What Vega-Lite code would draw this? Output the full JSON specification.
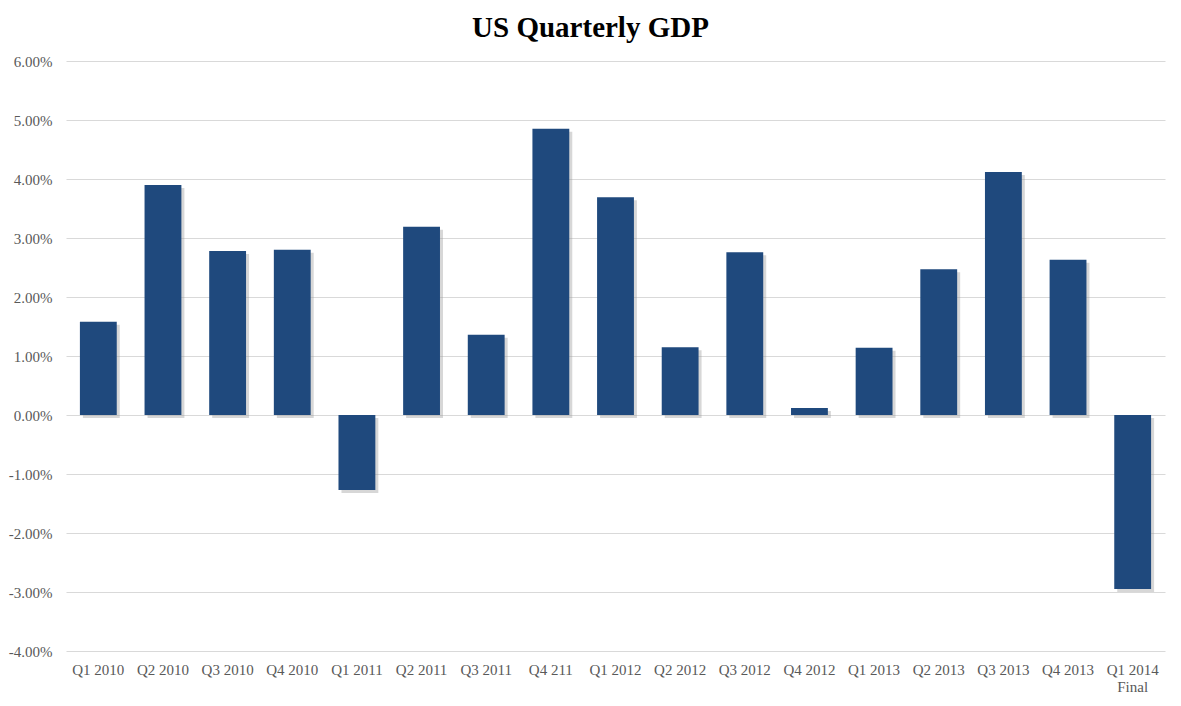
{
  "$schema": "https://vega.github.io/schema/vega-lite/v6.json",
  "width": 1099,
  "height": 590,
  "autosize": {"type": "none"},
  "padding": {"left": 66, "top": 61, "right": 16, "bottom": 55},
  "background": "white",
  "title": {
    "text": "US Quarterly GDP",
    "font": "Liberation Serif",
    "fontSize": 29,
    "fontWeight": "bold",
    "color": "#000000",
    "anchor": "middle",
    "offset": 11,
    "dx": -25
  },
  "data": {
    "values": [
      {"quarter": "Q1 2010", "gdp": 1.58},
      {"quarter": "Q2 2010", "gdp": 3.9},
      {"quarter": "Q3 2010", "gdp": 2.78},
      {"quarter": "Q4 2010", "gdp": 2.8},
      {"quarter": "Q1 2011", "gdp": -1.27},
      {"quarter": "Q2 2011", "gdp": 3.19},
      {"quarter": "Q3 2011", "gdp": 1.36},
      {"quarter": "Q4 211", "gdp": 4.85},
      {"quarter": "Q1 2012", "gdp": 3.69},
      {"quarter": "Q2 2012", "gdp": 1.15},
      {"quarter": "Q3 2012", "gdp": 2.76},
      {"quarter": "Q4 2012", "gdp": 0.12},
      {"quarter": "Q1 2013", "gdp": 1.14},
      {"quarter": "Q2 2013", "gdp": 2.47},
      {"quarter": "Q3 2013", "gdp": 4.12},
      {"quarter": "Q4 2013", "gdp": 2.63},
      {"quarter": "Q1 2014|Final", "gdp": -2.95}
    ]
  },
  "encoding": {
    "x": {
      "field": "quarter",
      "type": "nominal",
      "sort": null,
      "scale": {"paddingInner": 0.43, "paddingOuter": 0.215},
      "axis": {
        "title": null,
        "labelAngle": 0,
        "labelExpr": "split(datum.value, '|')",
        "labelFont": "Liberation Serif",
        "labelFontSize": 15,
        "labelColor": "#595959",
        "labelPadding": 11,
        "labelLineHeight": 17,
        "ticks": false,
        "domain": false,
        "grid": false
      }
    },
    "y": {
      "field": "gdp",
      "type": "quantitative",
      "scale": {"domain": [-4, 6], "nice": false},
      "axis": {
        "title": null,
        "values": [-4, -3, -2, -1, 0, 1, 2, 3, 4, 5, 6],
        "labelExpr": "(datum.value < 0 ? '-' : '') + format(abs(datum.value), '.2f') + '%'",
        "labelFont": "Liberation Serif",
        "labelFontSize": 15,
        "labelColor": "#595959",
        "labelPadding": 14,
        "ticks": false,
        "domain": false,
        "grid": true,
        "gridColor": "#d9d9d9",
        "gridWidth": 1
      }
    }
  },
  "layer": [
    {
      "mark": {"type": "bar", "color": "#9a9a9a", "opacity": 0.4, "xOffset": 3, "yOffset": 3}
    },
    {
      "mark": {"type": "bar", "color": "#1f497d"}
    }
  ],
  "config": {
    "view": {"stroke": null}
  }
}
